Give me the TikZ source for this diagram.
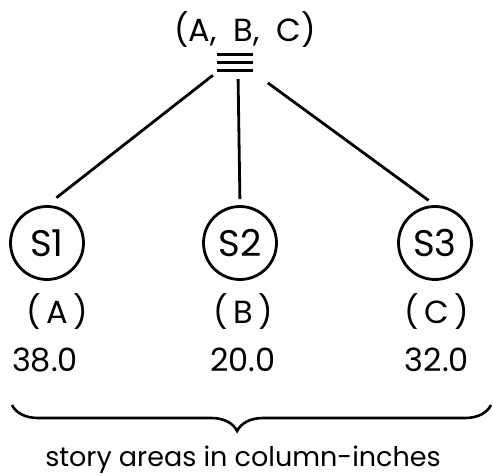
\documentclass[tikz,border=0pt]{standalone}
\usepackage{fontspec}
\setmainfont{Poppins}
\usetikzlibrary{decorations.pathreplacing}
\begin{document}
\begin{tikzpicture}[x=1pt, y=-1pt,
        story/.style={draw, circle, line width=2.8pt, minimum size=73pt, inner sep=0pt, font=\fontsize{37}{37}\selectfont},
        label/.style={font=\fontsize{32}{32}\selectfont},
        value/.style={font=\fontsize{32}{32}\selectfont},
        link/.style={line width=2.8pt}]
            \useasboundingbox (0,0) rectangle (493,476);

            \node[label] (top) at (245,30) {(A,\ \ B,\ \ C)};
            \node[minimum width=36pt, minimum height=18pt, inner sep=0pt] (hub) at (235,63) {};
            \foreach \dy in {-8,0,8}
                \draw[line width=3pt] ([yshift=-\dy pt]hub.west) -- ([yshift=-\dy pt]hub.east);

            \node[story] (s1) at (47,243) {S1};
            \node[story] (s2) at (240,243) {S2};
            \node[story] (s3) at (435,243) {S3};

            \draw[link, shorten <=5pt, shorten >=12pt] (hub.south west) -- (s1.north);
            \draw[link, shorten <=7pt, shorten >=6pt] ([xshift=3pt]hub.south) -- (s2.north);
            \draw[link, shorten <=18pt, shorten >=8pt] (hub.south east) -- (s3.north);

            \node[label] (la) at (57,312) {(\,A\,)};
            \node[label] (lb) at (243,312) {(\,B\,)};
            \node[label] (lc) at (437,312) {(\,C\,)};

            \node[value] (va) at (45,360) {38.0};
            \node[value] (vb) at (243,360) {20.0};
            \node[value] (vc) at (437,360) {32.0};

            \coordinate (bl) at (12,405);
            \coordinate (br) at (491,405);
            \draw[line width=2.6pt, decoration={brace, mirror, amplitude=26pt, aspect=0.47}, decorate] (bl) -- (br);

            \node[font=\fontsize{27}{27}\selectfont] (cap) at (243,460) {story areas in column-inches};
        \end{tikzpicture}
\end{document}
